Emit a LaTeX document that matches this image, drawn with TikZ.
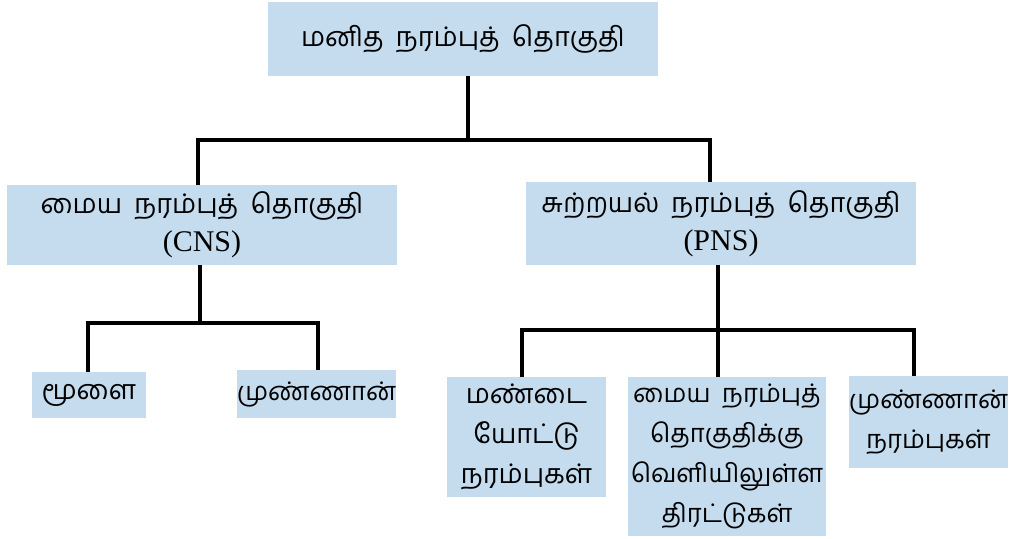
\documentclass[tikz,border=0pt]{standalone}
\usepackage{fontspec}
\setmainfont[Script=Tamil]{Hind Madurai}
\newfontfamily\latinfont{Liberation Serif}
\definecolor{boxblue}{RGB}{197,220,238}
\newcommand{\gap}{\hspace{0.45em}}
\begin{document}
\begin{tikzpicture}[x=0.5pt,y=-0.5pt,
  box/.style={fill=boxblue,draw=none,inner sep=0pt,align=center,font=\fontsize{13.5}{20}\selectfont},
  smallbox/.style={box,font=\fontsize{12.8}{20}\selectfont},
  conn/.style={draw=black,line width=1.6pt}]
\useasboundingbox (0,0) rectangle (1011,539);
\node[box,minimum width=195pt,minimum height=37pt] (top) at (463,39) {மனித\gap நரம்புத்\gap தொகுதி};
\node[box,minimum width=195pt,minimum height=40pt] (cns) at (202,225) {மைய\gap நரம்புத்\gap தொகுதி\\[-1pt]{\latinfont\fontsize{15}{18}\selectfont (CNS)}};
\node[box,minimum width=195pt,minimum height=41.5pt] (pns) at (721,223.5) {சுற்றயல்\gap நரம்புத்\gap தொகுதி\\[-1pt]{\latinfont\fontsize{15}{18}\selectfont (PNS)}};
\node[box,minimum width=57pt,minimum height=23pt] (brain) at (89,395) {மூளை};
\node[smallbox,minimum width=79.5pt,minimum height=24pt] (spinal) at (316.5,394) {முண்ணான்};
\node[box,minimum width=79.5pt,minimum height=60pt] (cranial) at (526.5,437) {மண்டை\\யோட்டு\\நரம்புகள்};
\node[smallbox,minimum width=99pt,minimum height=79.5pt] (ganglia) at (727,456.5) {மைய\gap நரம்புத்\\தொகுதிக்கு\\வெளியிலுள்ள\\திரட்டுகள்};
\node[smallbox,minimum width=79.5pt,minimum height=46pt] (snerves) at (928.5,422) {முண்ணான்\\நரம்புகள்};
\coordinate (bus1) at (468,140);
\coordinate (bus2) at (200,323);
\coordinate (bus3) at (718,330);
\draw[conn] ([xshift=2.5pt]top.south) -- (bus1);
\draw[conn] ([xshift=-2pt]cns.north) |- (bus1) -| ([xshift=-5.5pt]pns.north);
\draw[conn] ([xshift=-1pt]cns.south) -- (bus2);
\draw[conn] ([xshift=-0.5pt]brain.north) |- (bus2) -| ([xshift=0.75pt]spinal.north);
\draw[conn] ([xshift=-1.5pt]pns.south) -- (bus3);
\draw[conn] ([xshift=-2.25pt]cranial.north) |- (bus3) -| ([xshift=-7.25pt]snerves.north);
\draw[conn] (bus3) -- ([xshift=-4.5pt]ganglia.north);
\end{tikzpicture}
\end{document}
